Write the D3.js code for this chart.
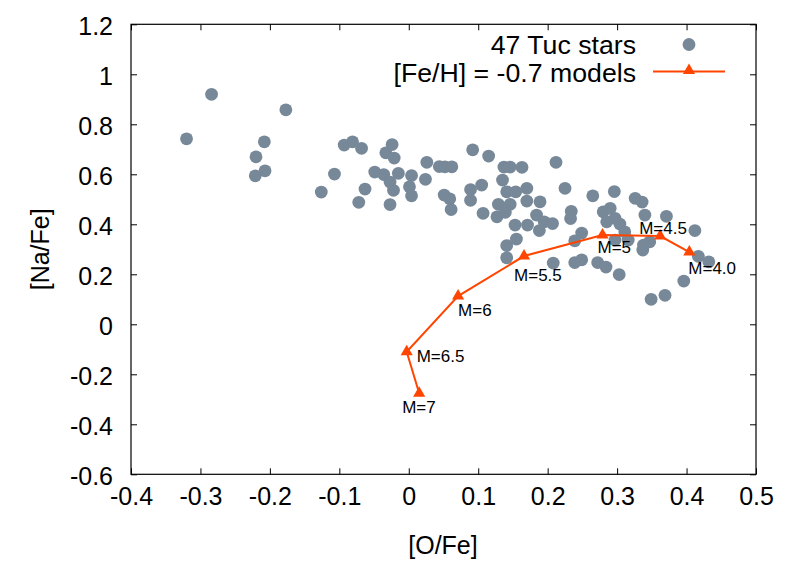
<!DOCTYPE html>
<html><head><meta charset="utf-8">
<script src="https://cdn.jsdelivr.net/npm/d3@7"></script>
<style>body{margin:0;background:#fff}text{font-family:"Liberation Sans",Arial,sans-serif}</style>
</head><body>
<svg id="c" width="789" height="569"></svg>
<script>
const starOFe = [-0.320,-0.284,-0.177,-0.208,-0.220,-0.221,-0.207,-0.126,-0.107,-0.093,-0.081,-0.068,-0.024,-0.033,-0.021,0.026,-0.049,-0.036,-0.015,-0.027,0.004,0.024,-0.022,0.001,-0.063,0.004,-0.072,-0.027,0.044,0.052,0.062,0.051,0.059,0.061,0.092,0.115,0.137,0.146,0.163,0.135,0.105,0.089,0.089,0.141,0.154,0.170,0.170,0.129,0.146,0.107,0.127,0.139,0.153,0.155,0.141,0.141,0.189,0.184,0.171,0.195,0.207,0.188,0.212,0.225,0.265,0.296,0.234,0.233,0.280,0.290,0.297,0.285,0.304,0.326,0.336,0.340,0.371,0.412,0.311,0.249,0.239,0.297,0.316,0.338,0.347,0.337,0.208,0.239,0.249,0.272,0.284,0.303,0.417,0.432,0.396,0.369,0.349];
const starNaFe = [0.742,0.920,0.858,0.730,0.670,0.594,0.614,0.529,0.601,0.717,0.730,0.704,0.719,0.686,0.665,0.648,0.609,0.599,0.604,0.569,0.595,0.580,0.536,0.550,0.541,0.514,0.488,0.479,0.631,0.630,0.630,0.517,0.502,0.459,0.698,0.673,0.629,0.629,0.628,0.577,0.557,0.539,0.496,0.530,0.530,0.544,0.493,0.480,0.480,0.444,0.430,0.448,0.397,0.341,0.315,0.266,0.490,0.437,0.397,0.410,0.403,0.375,0.648,0.544,0.514,0.531,0.452,0.423,0.450,0.464,0.424,0.410,0.401,0.504,0.489,0.437,0.432,0.375,0.370,0.365,0.334,0.337,0.337,0.317,0.330,0.297,0.245,0.247,0.258,0.247,0.229,0.199,0.272,0.250,0.173,0.116,0.100];
const modelMass = ["4.0","4.5","5","5.5","6","6.5","7"];
const modelOFe = [0.404,0.362,0.279,0.166,0.071,-0.003,0.015];
const modelNaFe = [0.289,0.353,0.357,0.273,0.113,-0.110,-0.276];
const labelOffset = [[-1,16],[-21,-8],[-5,12],[-10,19],[0,14],[10,4],[-17,14]];
const xTicks = [-0.4,-0.3,-0.2,-0.1,0,0.1,0.2,0.3,0.4,0.5];
const yTicks = [-0.6,-0.4,-0.2,0,0.2,0.4,0.6,0.8,1,1.2];
const legendLabels = ["47 Tuc stars","[Fe/H] = -0.7 models"];

const svg = d3.select("#c");
const L=131,R=756,T=24.3,B=474.3;
const x = d3.scaleLinear().domain([-0.4,0.5]).range([L,R]);
const y = d3.scaleLinear().domain([-0.6,1.2]).range([B,T]);
const fmt = d => String(Math.round(d*10)/10);
const starColor = "#778899", modelColor = "#ff4500";
const FONT = "Liberation Sans, Arial, sans-serif";

// axes
const gx = svg.append("g").attr("transform",`translate(0,${B})`)
  .call(d3.axisBottom(x).tickValues(xTicks).tickFormat(fmt).tickSizeInner(-6).tickSizeOuter(0).tickPadding(13));
const gxt = svg.append("g").attr("transform",`translate(0,${T})`)
  .call(d3.axisTop(x).tickValues(xTicks).tickFormat("").tickSizeInner(-6).tickSizeOuter(0));
const gy = svg.append("g").attr("transform",`translate(${L},0)`)
  .call(d3.axisLeft(y).tickValues(yTicks).tickFormat(fmt).tickSizeInner(-6).tickSizeOuter(0).tickPadding(18));
const gyr = svg.append("g").attr("transform",`translate(${R},0)`)
  .call(d3.axisRight(y).tickValues(yTicks).tickFormat("").tickSizeInner(-6).tickSizeOuter(0));
[gx,gxt,gy,gyr].forEach(g=>{g.select(".domain").remove();g.selectAll("line").attr("stroke","#000");
  g.selectAll("text").attr("font-size",25).attr("fill","#000").attr("font-family",FONT);});
gy.selectAll("text").attr("dy","0.4em");
svg.append("rect").attr("x",L).attr("y",T).attr("width",R-L).attr("height",B-T)
  .attr("fill","none").attr("stroke","#000").attr("stroke-width",1.2);

svg.append("text").attr("x",443).attr("y",554).attr("text-anchor","middle").attr("font-size",25).text("[O/Fe]");
svg.append("text").attr("transform",`translate(49,${(T+B)/2}) rotate(-90)`).attr("text-anchor","middle").attr("font-size",25).text("[Na/Fe]");

// stars
svg.append("g").selectAll("circle").data(d3.range(starOFe.length)).join("circle")
  .attr("cx",i=>x(starOFe[i])).attr("cy",i=>y(starNaFe[i])).attr("r",6.4).attr("fill",starColor);

// model
const tri = d3.symbol().type(d3.symbolTriangle).size(64);
const mIdx = d3.range(modelOFe.length);
svg.append("path").datum(mIdx).attr("fill","none").attr("stroke",modelColor).attr("stroke-width",2)
  .attr("d",d3.line().x(i=>x(modelOFe[i])).y(i=>y(modelNaFe[i])));
svg.append("g").selectAll("path").data(mIdx).join("path").attr("d",tri).attr("fill",modelColor)
  .attr("transform",i=>`translate(${x(modelOFe[i])},${y(modelNaFe[i])})`);
svg.append("g").selectAll("text").data(mIdx).join("text")
  .attr("x",i=>x(modelOFe[i])+labelOffset[i][0]).attr("y",i=>y(modelNaFe[i])+labelOffset[i][1])
  .attr("dy","0.35em").attr("font-size",17).text(i=>"M="+modelMass[i]);

// legend
const lg = svg.append("g");
lg.append("text").attr("x",636).attr("y",44).attr("dy","0.36em").attr("text-anchor","end").attr("font-size",26.7).text(legendLabels[0]);
lg.append("circle").attr("cx",689).attr("cy",44.5).attr("r",6.4).attr("fill",starColor);
lg.append("text").attr("x",636).attr("y",72).attr("dy","0.36em").attr("text-anchor","end").attr("font-size",26.7).text(legendLabels[1]);
lg.append("line").attr("x1",653).attr("x2",725).attr("y1",71.5).attr("y2",71.5).attr("stroke",modelColor).attr("stroke-width",2);
lg.append("path").attr("d",tri).attr("fill",modelColor).attr("transform","translate(689,70.5)");
</script>
</body></html>
